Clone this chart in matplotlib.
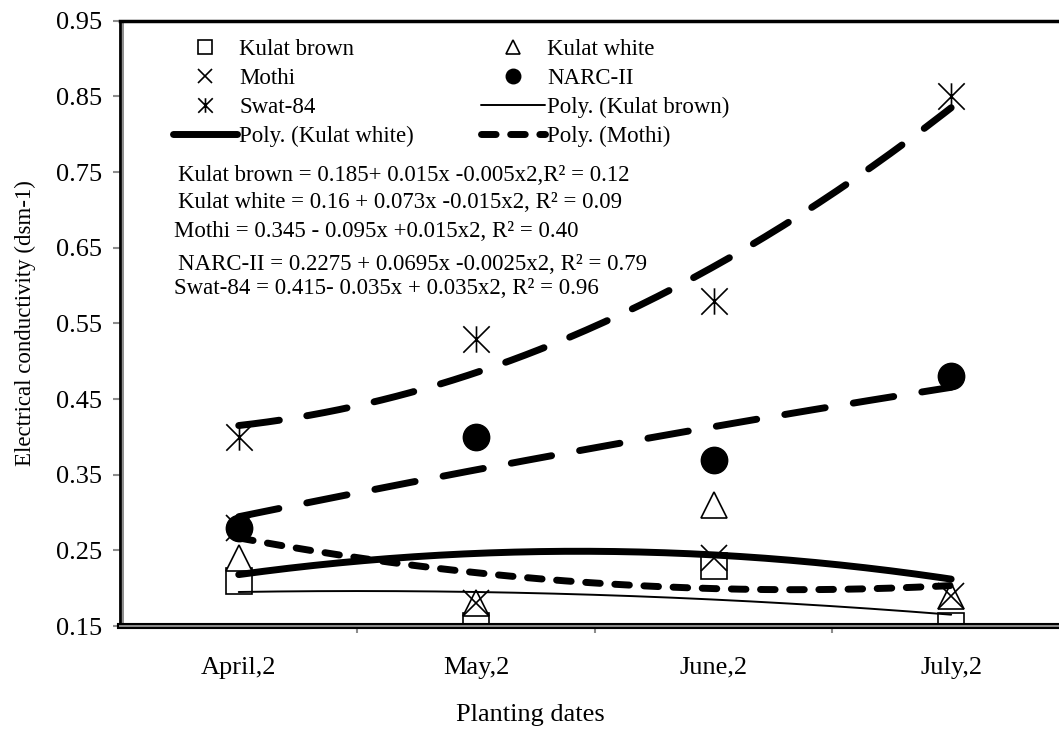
"""
Electrical conductivity of five varieties across planting dates,
with 2nd order polynomial trendlines (Excel style).
"""

import matplotlib
matplotlib.use('Agg')
import matplotlib.pyplot as plt
import matplotlib.patheffects as pe
from matplotlib.path import Path
import numpy as np

plt.rcParams['font.family'] = ['Liberation Serif', 'DejaVu Serif']

dates = ['April,2', 'May,2', 'June,2', 'July,2']
kulat_brown = [0.21, 0.15, 0.23, 0.15]
kulat_white = [0.24, 0.18, 0.31, 0.19]
mothi = [0.28, 0.18, 0.24, 0.19]
narc_ii = [0.28, 0.40, 0.37, 0.48]
swat_84 = [0.40, 0.53, 0.58, 0.85]

equations = [
    'Kulat brown = 0.185+ 0.015x -0.005x2,R² = 0.12',
    'Kulat white = 0.16 + 0.073x -0.015x2, R² = 0.09',
    'Mothi = 0.345 - 0.095x +0.015x2, R² = 0.40',
    'NARC-II = 0.2275 + 0.0695x -0.0025x2, R² = 0.79',
    'Swat-84 = 0.415- 0.035x + 0.035x2, R² = 0.96',
]

# asterisk like Excel: X plus a vertical bar
star = Path([(0, -1), (0, 1), (-1, -1), (1, 1), (-1, 1), (1, -1)],
            [Path.MOVETO, Path.LINETO] * 3)


def trend(ax, x, y, **kw):
    # quadratic fit, like Excel's "Poly." trendline
    coef = np.polyfit(x, y, 2)
    xs = np.linspace(x[0], x[-1], 200)
    return ax.plot(xs, np.polyval(coef, xs), color='black',
                   dash_capstyle='round', solid_capstyle='round', **kw)[0]


fig = plt.figure(figsize=(10.59, 7.4), dpi=100)
ax = fig.add_axes([0.1133, 0.154, 0.897, 0.818])

x = np.arange(1, len(dates) + 1)
ms = 19
h_kb, = ax.plot(x, kulat_brown, ls='none', marker='s', ms=ms,
                mfc='white', mec='black', mew=1.2)
h_kw, = ax.plot(x, kulat_white, ls='none', marker='^', ms=ms,
                mfc='white', mec='black', mew=1.2)
h_mo, = ax.plot(x, mothi, ls='none', marker='x', ms=ms,
                color='black', mew=1.2)
h_na, = ax.plot(x, narc_ii, ls='none', marker='o', ms=ms, color='black')
h_sw, = ax.plot(x, swat_84, ls='none', marker=star, ms=ms,
                color='black', mew=1.2)

t_kb = trend(ax, x, kulat_brown, lw=1.4)
t_kw = trend(ax, x, kulat_white, lw=5)
t_mo = trend(ax, x, mothi, lw=5, dashes=(2.1, 2.1))
trend(ax, x, narc_ii, lw=5, dashes=(5.9, 4.1))
trend(ax, x, swat_84, lw=5, dashes=(5.9, 4.0))

ax.set_xlim(0.5, 4.5)
ax.set_ylim(0.15, 0.95)
ax.set_yticks(np.arange(0.15, 0.951, 0.1))
ax.set_yticklabels([f'{v:.2f}' for v in np.arange(0.15, 0.951, 0.1)])
ax.set_xticks(x)
ax.set_xticklabels(dates)
ax.set_xticks([1.5, 2.5, 3.5], minor=True)
ax.tick_params(axis='x', which='major', length=0, pad=22, labelsize=19)
ax.tick_params(axis='x', which='minor', length=5, width=1.5,
               color='#8c8c8c', direction='out')
ax.tick_params(axis='y', length=5, width=1.5, color='#8c8c8c',
               direction='out', pad=8, labelsize=19)

ax.spines['right'].set_visible(False)
ax.spines['top'].set_linewidth(2.5)
ax.spines['left'].set_linewidth(2)
ax.spines['left'].set_path_effects([
    pe.Normal(),
    pe.Stroke(linewidth=1.4, foreground='#8c8c8c', offset=(1.9, 0)),
])
ax.spines['bottom'].set_color('#8c8c8c')
ax.spines['bottom'].set_linewidth(1.4)
ax.spines['bottom'].set_path_effects([
    pe.Stroke(linewidth=4.4, foreground='black'), pe.Normal(),
])

ax.set_ylabel('Electrical conductivity (dsm-1)', fontsize=16.5,
              labelpad=14)
ax.set_xlabel('Planting dates', fontsize=19)
ax.xaxis.set_label_coords(0.4316, -0.128)

# legend filled column by column, two columns
handles = [h_kb, h_mo, h_sw, t_kw, h_kw, h_na, t_kb, t_mo]
labels = ['Kulat brown', 'Mothi', 'Swat-84', 'Poly. (Kulat white)',
          'Kulat white', 'NARC-II', 'Poly. (Kulat brown)', 'Poly. (Mothi)']
ax.legend(handles, labels, ncol=2, frameon=False, fontsize=16.5,
          markerscale=0.55, handlelength=2.8, handletextpad=0.1,
          columnspacing=2.9, labelspacing=0.34,
          loc='upper left', bbox_to_anchor=(0.034, 1.004))

eq_y = [0.745, 0.700, 0.652, 0.598, 0.558]
eq_x = [0.061, 0.061, 0.057, 0.061, 0.057]
for txt, ex, ey in zip(equations, eq_x, eq_y):
    ax.text(ex, ey, txt, transform=ax.transAxes, fontsize=16.5,
            va='center', ha='left')

fig.savefig('out.png', dpi=100)
